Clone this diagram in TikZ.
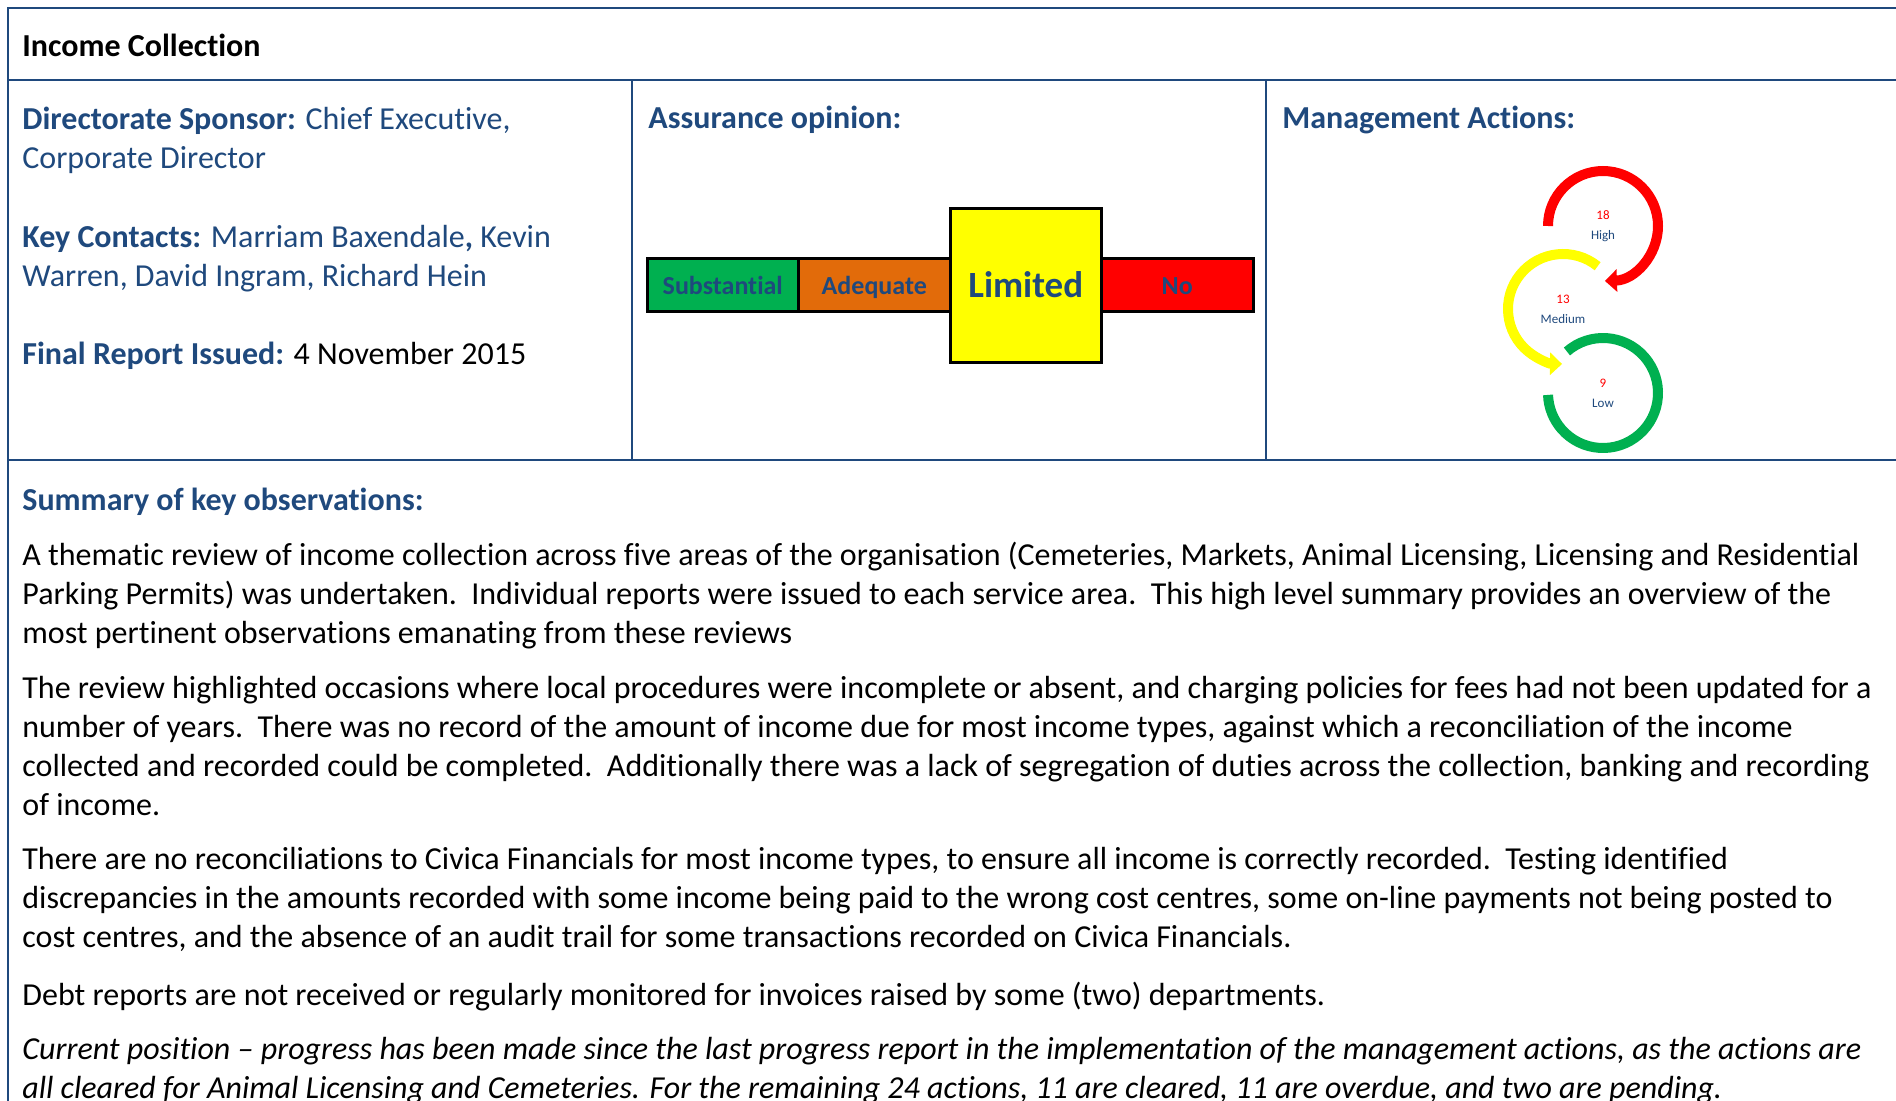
\documentclass[tikz,border=0pt]{standalone}
\usepackage{fontspec}
\setmainfont{Carlito}[Ligatures={TeX,NoCommon}]
\usetikzlibrary{arrows.meta,positioning}
\definecolor{reportblue}{RGB}{31,73,125}
\definecolor{rulecolor}{RGB}{31,73,125}
\definecolor{subgreen}{RGB}{0,176,80}
\definecolor{adeorange}{RGB}{226,107,10}
\definecolor{limyellow}{RGB}{255,255,0}
\definecolor{nored}{RGB}{255,0,0}

\tikzset{
  tablerule/.style={draw=rulecolor, line width=1pt},
  bodytext/.style={anchor=north west, inner sep=0pt, align=left, font=\fontsize{16}{19.6}\selectfont},
  headtext/.style={anchor=base west, inner sep=0pt, font=\fontsize{16}{19.6}\selectfont\bfseries, text=reportblue},
  barseg/.style={draw=black, line width=1.5pt, inner sep=0pt, outer sep=0pt, minimum width=75.75pt, minimum height=26.5pt, text height=8.6pt, text depth=0pt, text=reportblue, font=\fontsize{13}{15}\selectfont\bfseries},
  ring/.style={line width=5pt},
  ringlabel/.style={align=center, inner sep=0pt, font=\fontsize{6.5}{10}\selectfont, text=reportblue},
}

\begin{document}
\begin{tikzpicture}[x=0.5pt, y=-0.5pt]
  \useasboundingbox (0,0) rectangle (1896,1101);
  % table frame
  \draw[tablerule] (1896,8) -- (8,8) -- (8,1101);
  \draw[tablerule] (8,80) -- (1896,80);
  \draw[tablerule] (8,460) -- (1896,460);
  \draw[tablerule] (632,80) -- (632,460);
  \draw[tablerule] (1266,80) -- (1266,460);

  % headings
  \node[headtext, text=black] (title) at (22,57) {Income Collection};
  \node[headtext] (assurance) at (648,129) {Assurance opinion:};
  \node[headtext] (actions) at (1282,129) {Management Actions:};
  \node[headtext] (summary) at (22,510) {Summary of key observations:};

  % sponsor and contacts
  \node[bodytext, text=reportblue] (contacts) at (22,101.6) {\strut\textbf{Directorate Sponsor:} Chief Executive,\\
    Corporate Director\\[19.6pt]
    \textbf{Key Contacts:} Marriam Baxendale\textbf{,} Kevin\\
    Warren, David Ingram, Richard Hein\\[19.6pt]
    \textbf{Final Report Issued:} \textcolor{black}{4 November 2015}};

  % assurance scale
  \node[barseg, fill=subgreen] (sub) at (722.75,285.5) {Substantial};
  \node[barseg, fill=adeorange, right=0pt of sub] (ade) {Adequate};
  \node[barseg, fill=limyellow, right=0pt of ade, minimum height=77pt, text height=12pt,
        font=\fontsize{18.5}{22}\selectfont\bfseries] (lim) {Limited};
  \node[barseg, fill=nored, right=0pt of lim] (no) {No};

  % management action rings
  \node[ringlabel] (high) at (1603,226) {\textcolor{nored}{18}\\High};
  \node[ringlabel] (medium) at (1563,309) {\textcolor{nored}{13}\\Medium};
  \node[ringlabel] (low) at (1603,393) {\textcolor{nored}{9}\\Low};
  \draw[ring, draw=subgreen] (low.center) ++(-131:55) arc[start angle=-131, end angle=178, radius=55];
  \draw[ring, draw=limyellow, -{Triangle[width=11pt,length=6pt]}] (medium.center) ++(-51:55) arc[start angle=-51, end angle=-269, radius=55];
  \draw[ring, draw=nored, -{Triangle[width=11pt,length=6pt]}] (high.center) ++(-180:55) arc[start angle=-180, end angle=88, radius=55];

  % summary paragraphs
  \node[bodytext] (para1) at (22,537.2) {\strut A thematic review of income collection across five areas of the organisation (Cemeteries, Markets, Animal Licensing, Licensing and Residential\\
    Parking Permits) was undertaken.\ \ Individual reports were issued to each service area.\ \ This high level summary provides an overview of the\\
    most pertinent observations emanating from these reviews};
  \node[bodytext] (para2) at (22,670.2) {\strut The review highlighted occasions where local procedures were incomplete or absent, and charging policies for fees had not been updated for a\\
    number of years.\ \ There was no record of the amount of income due for most income types, against which a reconciliation of the income\\
    collected and recorded could be completed.\ \ Additionally there was a lack of segregation of duties across the collection, banking and recording\\
    of income.};
  \node[bodytext] (para3) at (22,841.6) {\strut There are no reconciliations to Civica Financials for most income types, to ensure all income is correctly recorded.\ \ Testing identified\\
    discrepancies in the amounts recorded with some income being paid to the wrong cost centres, some on-line payments not being posted to\\
    cost centres, and the absence of an audit trail for some transactions recorded on Civica Financials.};
  \node[bodytext] (para4) at (22,977.3) {\strut Debt reports are not received or regularly monitored for invoices raised by some (two) departments.};
  \node[bodytext, font=\fontsize{16}{19.6}\selectfont\itshape] (para5) at (22,1031.6) {\strut Current position – progress has been made since the last progress report in the implementation of the management actions, as the actions are\\
    all cleared for Animal Licensing and Cemeteries. For the remaining 24 actions, 11 are cleared, 11 are overdue, and two are pending.};
\end{tikzpicture}
\end{document}
